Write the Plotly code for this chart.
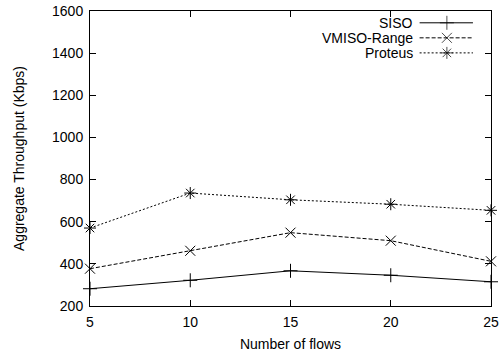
import plotly.graph_objects as go

# Aggregate throughput (Kbps) versus number of concurrent flows
flows = [5, 10, 15, 20, 25]
siso = [282, 322, 367, 346, 315]
vmiso_range = [377, 462, 548, 510, 412]
proteus = [570, 736, 704, 683, 654]

series_names = ["SISO", "VMISO-Range", "Proteus"]
x_ticks = [5, 10, 15, 20, 25]
y_ticks = [200, 400, 600, 800, 1000, 1200, 1400, 1600]

FONT = "Liberation Sans, Arial, Helvetica, sans-serif"
FS = 14
styles = [
    dict(dash="solid", symbol="cross-thin-open"),
    dict(dash="4px,2px", symbol="x-thin-open"),
    dict(dash="2px,2px", symbol="asterisk-open"),
]

fig = go.Figure()
for name, vals, st in zip(series_names, [siso, vmiso_range, proteus], styles):
    fig.add_trace(go.Scatter(
        x=flows, y=vals, name=name, mode="lines+markers",
        line=dict(color="black", width=1, dash=st["dash"]),
        marker=dict(symbol=st["symbol"], size=10, color="black",
                    line=dict(color="black", width=1)),
        showlegend=False, cliponaxis=False,
    ))

# Gnuplot-style key: label on the left, line sample on the right
key_rows = [0.96, 0.909, 0.858]
for name, st, ky in zip(series_names, styles, key_rows):
    fig.add_trace(go.Scatter(
        x=[0.822, 0.89, 0.955], y=[ky, ky, ky], mode="lines+markers",
        xaxis="x2", yaxis="y2",
        line=dict(color="black", width=1, dash=st["dash"]),
        marker=dict(symbol=st["symbol"], size=[0, 10, 0], color="black",
                    line=dict(color="black", width=1)),
        showlegend=False, hoverinfo="skip",
    ))
    fig.add_annotation(
        x=0.81, y=ky, xref="x2", yref="y2", text=name, showarrow=False,
        xanchor="right", yanchor="middle",
        font=dict(family=FONT, size=FS, color="black"),
    )

axis_common = dict(
    showline=True, linecolor="black", linewidth=1, mirror="ticks",
    ticks="inside", ticklen=6, tickcolor="black", tickwidth=1,
    showgrid=False, zeroline=False, automargin=False,
    tickfont=dict(family=FONT, size=FS, color="black"),
)

fig.update_layout(
    width=501, height=358,
    margin=dict(l=90, r=10, t=11, b=52),
    paper_bgcolor="white", plot_bgcolor="white",
    xaxis=dict(range=[5, 25], tickvals=x_ticks, ticklabelstandoff=3,
               title=dict(text="Number of flows", standoff=10,
                          font=dict(family=FONT, size=FS, color="black")),
               **axis_common),
    yaxis=dict(range=[200, 1600], tickvals=y_ticks, ticklabelstandoff=3,
               title=dict(text="Aggregate Throughput (Kbps)", standoff=24,
                          font=dict(family=FONT, size=FS, color="black")),
               **axis_common),
    xaxis2=dict(range=[0, 1], overlaying="x", visible=False, fixedrange=True),
    yaxis2=dict(range=[0, 1], overlaying="y", visible=False, fixedrange=True),
    showlegend=False,
)

fig.write_html("out.html")
